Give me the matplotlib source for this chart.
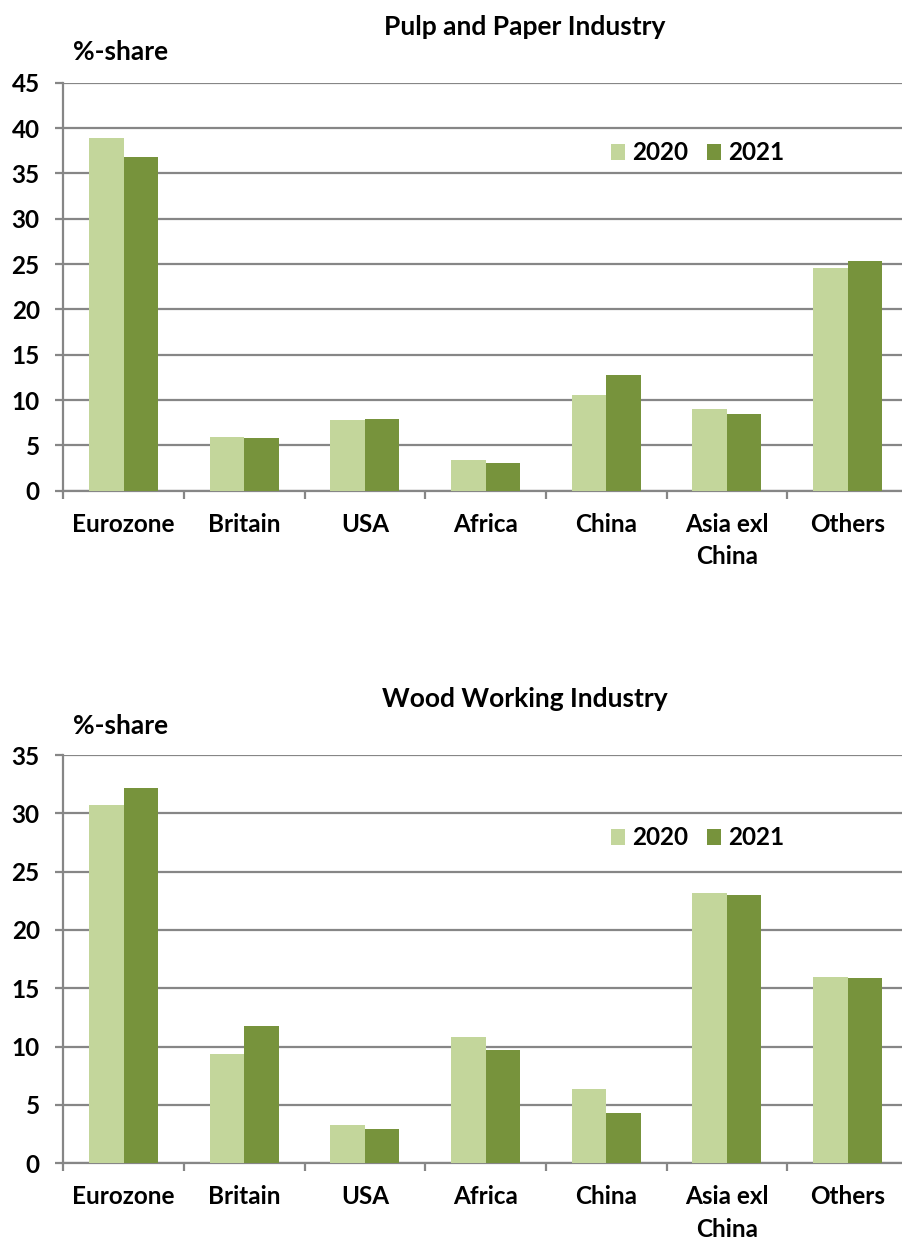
import numpy as np
import matplotlib
matplotlib.use("Agg")
import matplotlib.pyplot as plt
from matplotlib.ticker import FixedLocator, NullFormatter

plt.rcParams['font.family'] = ['Lato', 'DejaVu Sans']
plt.rcParams['font.weight'] = 'bold'

categories = ["Eurozone", "Britain", "USA", "Africa", "China", "Asia exl\nChina", "Others"]
series_names = ["2020", "2021"]

pulp_2020 = [38.9, 5.9, 7.8, 3.4, 10.6, 9.0, 24.6]
pulp_2021 = [36.8, 5.8, 7.9, 3.1, 12.8, 8.5, 25.3]

wood_2020 = [30.7, 9.4, 3.3, 10.8, 6.4, 23.2, 16.0]
wood_2021 = [32.2, 11.8, 2.9, 9.7, 4.3, 23.0, 15.9]

c_light = "#C3D69B"
c_dark = "#77933C"
grid_c = "#868686"

fig = plt.figure(figsize=(9.03, 12.42), dpi=100)

TICK_FS = 17.5

def draw(ax, v1, v2, ymax, title, title_y, share_y, leg_y):
    x = np.arange(len(categories))
    w = 0.286
    ax.bar(x - w / 2, v1, w, color=c_light, label=series_names[0], zorder=3)
    ax.bar(x + w / 2, v2, w, color=c_dark, label=series_names[1], zorder=3)
    ax.set_xlim(-0.5, len(categories) - 0.5)
    ax.set_ylim(0, ymax)
    ax.set_yticks(np.arange(0, ymax + 1, 5))
    ax.yaxis.grid(True, color=grid_c, linewidth=1.6, zorder=0)
    ax.set_axisbelow(True)
    for s in ["top", "right"]:
        ax.spines[s].set_visible(False)
    for s in ["left", "bottom"]:
        ax.spines[s].set_color(grid_c)
        ax.spines[s].set_linewidth(1.6)
    ax.set_xticks(x)
    ax.set_xticklabels(categories, fontsize=TICK_FS, fontweight='bold', linespacing=1.5)
    ax.tick_params(axis='x', which='major', length=0, pad=16)
    ax.xaxis.set_minor_locator(FixedLocator(np.arange(-0.5, len(categories), 1.0)))
    ax.xaxis.set_minor_formatter(NullFormatter())
    ax.tick_params(axis='x', which='minor', length=6, width=1.6, color=grid_c, direction='out')
    ax.tick_params(axis='y', length=6, width=1.6, color=grid_c, direction='out', pad=11,
                   labelsize=TICK_FS)
    for lab in ax.get_yticklabels():
        lab.set_fontweight('bold')
    leg = ax.legend(loc='center left', bbox_to_anchor=(0.648, leg_y), ncol=2, frameon=False,
                    fontsize=TICK_FS, handlelength=0.6, handleheight=0.6, handletextpad=0.3,
                    columnspacing=0.75, borderaxespad=0, borderpad=0)
    for t in leg.get_texts():
        t.set_fontweight('bold')
    fig.text(0.581, title_y, title, ha='center', va='center', fontsize=19, fontweight='bold')
    fig.text(0.081, share_y, "%-share", ha='left', va='center', fontsize=19, fontweight='bold')

ax1 = fig.add_axes([0.0701, 0.6049, 0.9354, 0.3285])
draw(ax1, pulp_2020, pulp_2021, 45, "Pulp and Paper Industry", 1 - 27 / 1242, 1 - 52 / 1242, 0.828)

ax2 = fig.add_axes([0.0701, 0.0634, 0.9354, 0.3287])
draw(ax2, wood_2020, wood_2021, 35, "Wood Working Industry", 1 - 699 / 1242, 1 - 726 / 1242, 0.797)

fig.savefig("out.png", dpi=100)
